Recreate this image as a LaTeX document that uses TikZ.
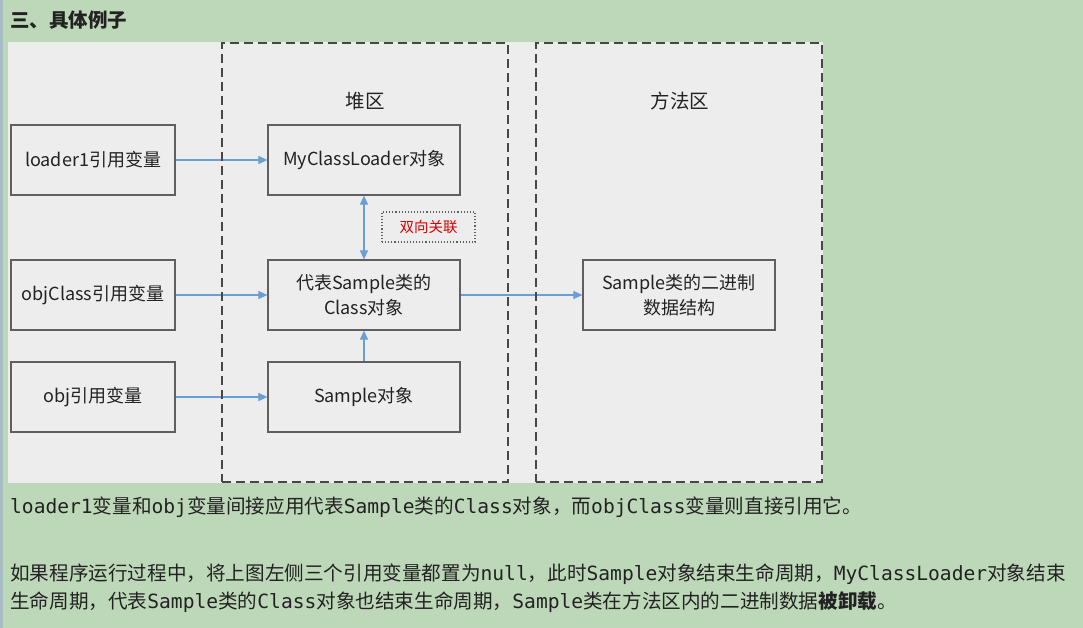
\documentclass[tikz,border=0pt]{standalone}
\usepackage{fontspec}
\setmainfont{Noto Sans CJK SC}
\setmonofont{DejaVu Sans Mono}
\usetikzlibrary{arrows.meta}
\definecolor{pagegreen}{HTML}{BDD8B8}
\definecolor{edgestrip}{HTML}{A9BCC4}
\definecolor{panelgray}{HTML}{EDEDED}
\definecolor{linkblue}{HTML}{6A9FD4}
\definecolor{edgegray}{HTML}{5F5F5F}
\definecolor{zonegray}{HTML}{474747}
\definecolor{inkgray}{HTML}{222222}
\newcommand{\cd}[1]{{\ttfamily #1}}

\begin{document}
\begin{tikzpicture}[x=1pt,y=-1pt,
  obj/.style={draw=edgegray, line width=1.2pt, fill=panelgray, minimum width=192pt, minimum height=70pt, inner sep=0pt, align=center, text=inkgray, font=\fontsize{18}{25}\selectfont},
  var/.style={obj, minimum width=164pt},
  zone/.style={draw=zonegray, line width=1.6pt, dash pattern=on 9pt off 5pt, minimum width=286pt, minimum height=439pt, inner sep=0pt},
  zonename/.style={text=inkgray, font=\fontsize{19.5}{24}\selectfont},
  link/.style={draw=linkblue, line width=1.1pt, -{Triangle[length=9pt,width=8pt]}},
  note/.style={anchor=base west, inner sep=0pt, text=inkgray, font=\fontsize{19.6}{24}\selectfont}
]
% page and panel
\fill[pagegreen] (0,0) rectangle (1083,628);
\fill[edgestrip] (0,0) rectangle (3,628);
\fill[panelgray] (8,42) rectangle (823,483);
\useasboundingbox (0,0) rectangle (1083,628);

\node[anchor=west, inner sep=0pt, text=inkgray, font=\fontsize{19.5}{24}\selectfont\bfseries] (title) at (10,20) {三、具体例子};

% reference variables
\node[var] (loader) at (93,160) {loader1引用变量};
\node[var] (objcls) at (93,295) {objClass引用变量};
\node[var] (objvar) at (93,397) {obj引用变量};

% heap
\node[zonename] (heapname) at (365,101) {堆区};
\node[obj] (loaderobj) at (364,160) {MyClassLoader对象};
\node[obj] (classobj) at (364,295) {代表Sample类的\\Class对象};
\node[obj] (sampleobj) at (364,397) {Sample对象};
\node[draw=edgegray, line width=1.1pt, dotted, minimum width=93pt, minimum height=30pt, inner sep=0pt, text=red!85!black, font=\fontsize{14.5}{17}\selectfont] (tag) at (428.5,227) {双向关联};

% method area
\node[zonename] (methname) at (680,101) {方法区};
\node[obj] (bindata) at (679,295) {Sample类的二进制\\数据结构};

\draw[link] (loader) -- (loaderobj);
\draw[link] (objcls) -- (classobj);
\draw[link] (objvar) -- (sampleobj);
\draw[link, {Triangle[length=9pt,width=8pt]}-{Triangle[length=9pt,width=8pt]}] (loaderobj) -- (classobj);
\draw[link] (sampleobj) -- (classobj);
\draw[link] (classobj) -- (bindata);

\node[zone] (heap) at (365,262.5) {};
\node[zone] (meth) at (679,262.5) {};

% explanation
\node[note] (line1) at (10,513) {\cd{loader1}变量和\cd{obj}变量间接应用代表\cd{Sample}类的\cd{Class}对象，而\cd{objClass}变量则直接引用它。};
\node[note] (line2) at (10,580) {如果程序运行过程中，将上图左侧三个引用变量都置为\cd{null}，此时\cd{Sample}对象结束生命周期，\cd{MyClassLoader}对象结束};
\node[note] (line3) at (10,608) {生命周期，代表\cd{Sample}类的\cd{Class}对象也结束生命周期，\cd{Sample}类在方法区内的二进制数据\textbf{被卸载}。};
\end{tikzpicture}
\end{document}
